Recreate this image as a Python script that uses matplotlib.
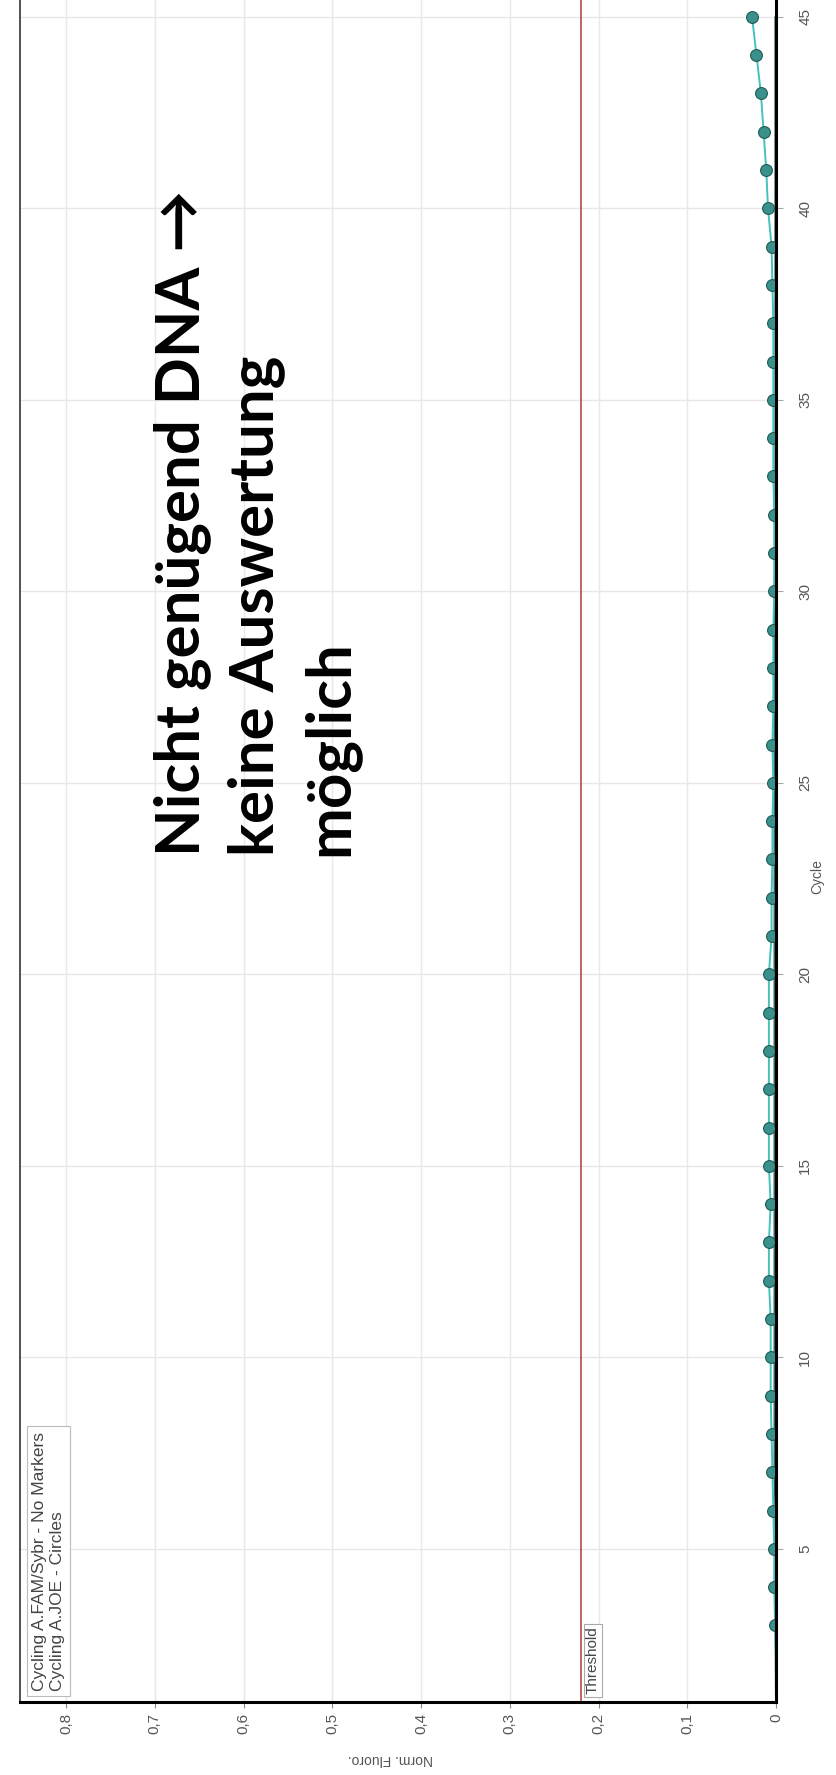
import matplotlib.pyplot as plt

# rotated qPCR amplification plot (chart turned 90 deg counter-clockwise)
cycles = list(range(1, 46))
joe_fluoro = [0.000, 0.0005, 0.001, 0.002, 0.002, 0.003, 0.004, 0.005, 0.006, 0.006,
              0.006, 0.008, 0.008, 0.006, 0.008, 0.008, 0.008, 0.008, 0.008, 0.008,
              0.005, 0.005, 0.004, 0.004, 0.003, 0.004, 0.003, 0.003, 0.003, 0.002,
              0.002, 0.002, 0.003, 0.003, 0.003, 0.003, 0.003, 0.004, 0.005, 0.009,
              0.011, 0.014, 0.017, 0.022, 0.027]
fam_fluoro = [0.000, 0.000, 0.001, 0.001, 0.001, 0.001, 0.002, 0.002, 0.002, 0.002,
              0.002, 0.002, 0.002, 0.002, 0.002, 0.002, 0.002, 0.002, 0.002, 0.002,
              0.002, 0.002, 0.002, 0.002, 0.002, 0.002, 0.002, 0.002, 0.002, 0.002,
              0.001, 0.001, 0.001, 0.001, 0.001, 0.001, 0.001, 0.001, 0.001, 0.001,
              0.001, 0.001, 0.001, 0.001, 0.001]
threshold = 0.22

fluoro_ticks = [0, 0.1, 0.2, 0.3, 0.4, 0.5, 0.6, 0.7, 0.8]
fluoro_labels = ["0", "0,1", "0,2", "0,3", "0,4", "0,5", "0,6", "0,7", "0,8"]
cycle_ticks = [5, 10, 15, 20, 25, 30, 35, 40, 45]
legend_lines = ["Cycling A.FAM/Sybr - No Markers", "Cycling A.JOE - Circles"]
note_lines = ["Nicht genügend DNA \u2192", "keine Auswertung", "möglich"]

W, H = 836, 1775
fig = plt.figure(figsize=(W / 100, H / 100), dpi=100)
ax = fig.add_axes([20 / W, 1 - 1702 / H, (776 - 20) / W, 1702 / H])

ax.set_xlim(0.852, 0)
ax.set_ylim(1, 45.44)

gray = "#555555"
lab_font = dict(family="Liberation Sans", color=gray)

ax.set_xticks(fluoro_ticks)
ax.set_xticklabels(fluoro_labels, rotation=90, fontsize=11, **lab_font)
ax.yaxis.tick_right()
ax.set_yticks(cycle_ticks)
ax.set_yticklabels([str(c) for c in cycle_ticks], rotation=90, va="center",
                   fontsize=11, **lab_font)
ax.tick_params(axis="x", length=4, color="#888888", pad=4)
ax.tick_params(axis="y", length=5, color="#aaaaaa", pad=11)

ax.grid(True, color="#e8e8e8", lw=1)
ax.set_axisbelow(True)

ax.spines["top"].set_visible(False)
ax.spines["left"].set_color("#333333")
ax.spines["left"].set_linewidth(1.2)
ax.spines["right"].set_color("black")
ax.spines["right"].set_linewidth(2.2)
ax.spines["bottom"].set_color("black")
ax.spines["bottom"].set_linewidth(2.2)

# threshold
ax.axvline(threshold, color="#b03a3a", lw=1.1)
ax.text(threshold - 0.006, 1.2, "Threshold", rotation=90, ha="left", va="bottom",
        fontsize=11, color="#444444", family="Liberation Sans",
        bbox=dict(boxstyle="square,pad=0.15", fc="white", ec="#aaaaaa", lw=0.8))

# traces
ax.plot(fam_fluoro, cycles, color="#1f5f5a", lw=1.0)
ax.plot(joe_fluoro, cycles, color="#45c2bb", lw=1.4, marker="o", markersize=8.5,
        markerfacecolor="#3a918b", markeredgecolor="#1e5a56", markeredgewidth=0.8,
        markevery=slice(2, None))

# legend box
ax.text(0.838, 1.3, legend_lines[0] + "\n" + legend_lines[1], rotation=90,
        ha="left", va="bottom", fontsize=12.5, color="#444444",
        family="Liberation Sans", linespacing=1.2,
        bbox=dict(boxstyle="square,pad=0.3", fc="white", ec="#bbbbbb", lw=0.8))

# axis titles
fig.text(817 / W, 1 - 877 / H, "Cycle", rotation=90, ha="center", va="center",
         fontsize=10, **lab_font)
fig.text(390 / W, 1 - 1759 / H, "Norm. Fluoro.", rotation=180, ha="center",
         va="center", fontsize=10, **lab_font)

# big annotation
for i, line in enumerate(note_lines):
    fig.text((199 + 74 * i) / W, 1 - 856 / H, line, rotation=90,
             rotation_mode="anchor", ha="left", va="baseline",
             fontsize=44.5, fontweight="bold", family=["Lato", "DejaVu Sans"],
             color="black")

fig.savefig("out.png", dpi=100)
